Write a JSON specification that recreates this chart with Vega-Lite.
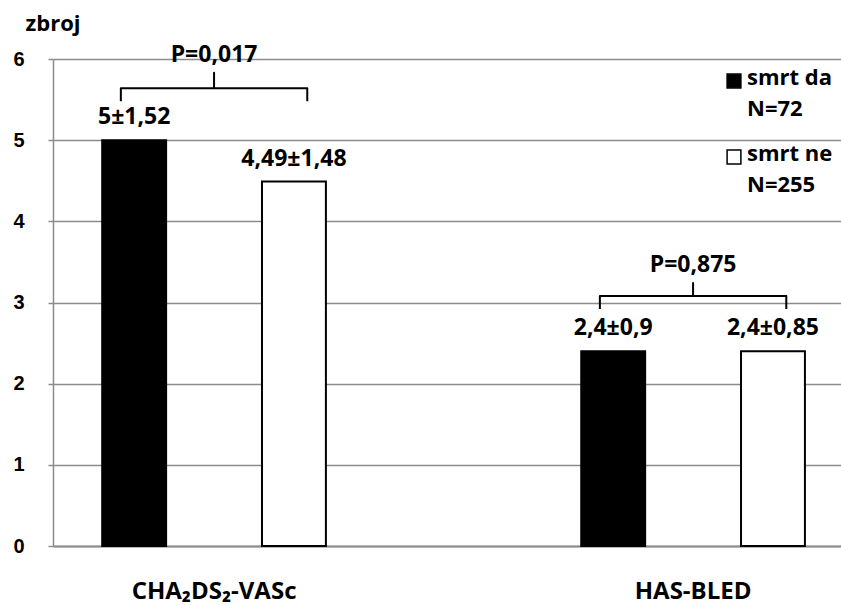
{
  "$schema": "https://vega.github.io/schema/vega-lite/v6.json",
  "width": 788,
  "height": 487,
  "autosize": {"type": "none"},
  "padding": {"left": 53, "top": 59, "right": 0, "bottom": 59},
  "background": "white",
  "config": {
    "view": {"stroke": null},
    "font": "Open Sans",
    "axisY": {
      "grid": true, "gridColor": "#8c8c8c", "gridWidth": 1.5,
      "domainColor": "#8c8c8c", "domainWidth": 1.5,
      "tickColor": "#8c8c8c", "tickSize": 5, "tickWidth": 1.5,
      "labelFont": "Liberation Sans", "labelFontSize": 20, "labelFontWeight": "bold", "labelColor": "#000000", "labelPadding": 24,
      "titleAngle": 0, "titleAlign": "left", "titleBaseline": "alphabetic", "titleX": -28, "titleY": -29,
      "titleFont": "Open Sans", "titleFontSize": 22, "titleFontWeight": "bold", "titleColor": "#000000"
    },
    "axisX": {
      "domainColor": "#8c8c8c",
      "domainWidth": 2,
      "ticks": false,
      "grid": false,
      "labelAngle": 0,
      "labelFont": "Open Sans",
      "labelFontSize": 24,
      "labelFontWeight": "bold",
      "labelColor": "#000000",
      "labelPadding": 33
    }
  },
  "datasets": {
    "stupci": [
      {"skor": "CHA₂DS₂-VASc", "skupina": "smrt da", "vrijednost": 5, "oznaka": "5±1,52"},
      {"skor": "CHA₂DS₂-VASc", "skupina": "smrt ne", "vrijednost": 4.49, "oznaka": "4,49±1,48"},
      {"skor": "HAS-BLED", "skupina": "smrt da", "vrijednost": 2.4, "oznaka": "2,4±0,9"},
      {"skor": "HAS-BLED", "skupina": "smrt ne", "vrijednost": 2.4, "oznaka": "2,4±0,85"}
    ],
    "zagrade": [
      {"skor": "CHA₂DS₂-VASc", "tocka": "L", "y": 5.48, "red": 0},
      {"skor": "CHA₂DS₂-VASc", "tocka": "L", "y": 5.64, "red": 1},
      {"skor": "CHA₂DS₂-VASc", "tocka": "M", "y": 5.64, "red": 2},
      {"skor": "CHA₂DS₂-VASc", "tocka": "M", "y": 5.83, "red": 3},
      {"skor": "CHA₂DS₂-VASc", "tocka": "M", "y": 5.64, "red": 4},
      {"skor": "CHA₂DS₂-VASc", "tocka": "R", "y": 5.64, "red": 5},
      {"skor": "CHA₂DS₂-VASc", "tocka": "R", "y": 5.48, "red": 6},
      {"skor": "HAS-BLED", "tocka": "L", "y": 2.92, "red": 0},
      {"skor": "HAS-BLED", "tocka": "L", "y": 3.08, "red": 1},
      {"skor": "HAS-BLED", "tocka": "M", "y": 3.08, "red": 2},
      {"skor": "HAS-BLED", "tocka": "M", "y": 3.24, "red": 3},
      {"skor": "HAS-BLED", "tocka": "M", "y": 3.08, "red": 4},
      {"skor": "HAS-BLED", "tocka": "R", "y": 3.08, "red": 5},
      {"skor": "HAS-BLED", "tocka": "R", "y": 2.92, "red": 6}
    ],
    "pvrijednosti": [
      {"skor": "CHA₂DS₂-VASc", "tocka": "M", "y": 5.83, "p": "P=0,017"},
      {"skor": "HAS-BLED", "tocka": "M", "y": 3.24, "p": "P=0,875"}
    ]
  },
  "layer": [
    {
      "data": {"name": "stupci"},
      "encoding": {
        "x": {
          "field": "skor", "type": "nominal", "title": null,
          "scale": {"domain": ["CHA₂DS₂-VASc", "HAS-BLED"], "paddingInner": 0.533, "paddingOuter": 0.089, "align": 0.577}
        },
        "xOffset": {
          "field": "skupina", "type": "nominal",
          "scale": {"domain": ["smrt da", "smrt ne"], "paddingInner": 0.6, "paddingOuter": 0}
        },
        "y": {
          "field": "vrijednost", "type": "quantitative", "title": "zbroj",
          "scale": {"domain": [0, 6], "nice": false, "zero": true},
          "axis": {"values": [0, 1, 2, 3, 4, 5, 6], "format": "d", "labelFontSize": 20}
        }
      },
      "layer": [
        {
          "mark": {"type": "bar", "stroke": "#000000", "strokeWidth": 2},
          "encoding": {
            "fill": {
              "field": "skupina", "type": "nominal",
              "scale": {"domain": ["smrt da", "smrt ne"], "range": ["#000000", "#ffffff"]},
              "legend": {
                "orient": "none",
                "legendX": 670,
                "legendY": 11,
                "padding": 0,
                "title": null,
                "symbolType": "square",
                "symbolSize": 190,
                "symbolStrokeColor": "#000000",
                "symbolStrokeWidth": 1.5,
                "labelFont": "Open Sans",
                "labelFontSize": 22,
                "labelFontWeight": "bold",
                "labelColor": "#000000",
                "labelOffset": 2,
                "labelBaseline": "alphabetic",
                "rowPadding": 23,
                "labelExpr": "datum.label == 'smrt da' ? ['smrt da', 'N=72'] : ['smrt ne', 'N=255']",
                "encode": {"labels": {"update": {"dy": {"value": 4}, "lineHeight": {"value": 31}}}}
              }
            }
          }
        },
        {
          "mark": {"type": "text", "fontSize": 23, "fontWeight": "bold", "baseline": "alphabetic", "dy": -16, "color": "#000000"},
          "encoding": {"text": {"field": "oznaka"}}
        }
      ]
    },
    {
      "layer": [
        {
          "data": {"name": "zagrade"},
          "mark": {"type": "line", "color": "#000000", "strokeWidth": 2, "strokeJoin": "round"},
          "encoding": {
            "x": {"field": "skor", "type": "nominal", "title": null, "scale": {"domain": ["CHA₂DS₂-VASc", "HAS-BLED"]}},
            "xOffset": {"field": "tocka", "type": "nominal", "scale": {"domain": ["L", "M", "R"], "padding": 0.2}},
            "y": {"field": "y", "type": "quantitative", "title": "zbroj", "scale": {"domain": [0, 6], "nice": false},
                  "axis": {"values": [0, 1, 2, 3, 4, 5, 6], "format": "d", "labelFontSize": 20}},
            "detail": {"field": "skor"},
            "order": {"field": "red", "type": "quantitative"}
          }
        },
        {
          "data": {"name": "pvrijednosti"},
          "mark": {"type": "text", "fontSize": 23, "fontWeight": "bold", "baseline": "alphabetic", "dy": -11, "color": "#000000"},
          "encoding": {
            "x": {"field": "skor", "type": "nominal", "title": null, "scale": {"domain": ["CHA₂DS₂-VASc", "HAS-BLED"]}},
            "xOffset": {"field": "tocka", "type": "nominal", "scale": {"domain": ["L", "M", "R"], "padding": 0.2}},
            "y": {"field": "y", "type": "quantitative", "title": "zbroj", "scale": {"domain": [0, 6], "nice": false},
                  "axis": {"values": [0, 1, 2, 3, 4, 5, 6], "format": "d", "labelFontSize": 20}},
            "text": {"field": "p"}
          }
        }
      ]
    }
  ],
  "resolve": {"scale": {"xOffset": "independent"}}
}
